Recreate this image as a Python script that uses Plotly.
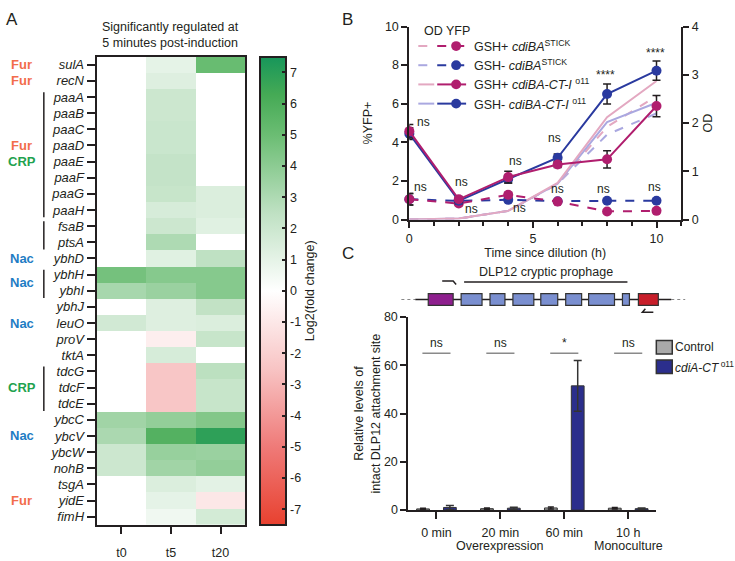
import plotly.graph_objects as go

W, H = 735, 561
def fx(p): return p / W
def fy(p): return 1 - p / H

FONT = "Liberation Sans, Arial, sans-serif"
INK = "#231f20"

# ---------------- Panel A data ----------------
genes = ["sulA", "recN", "paaA", "paaB", "paaC", "paaD", "paaE", "paaF", "paaG", "paaH",
         "fsaB", "ptsA", "ybhD", "ybhH", "ybhI", "ybhJ", "leuO", "proV", "tktA",
         "tdcG", "tdcF", "tdcE", "ybcC", "ybcV", "ybcW", "nohB", "tsgA", "yidE", "fimH"]
time_labels = ["t0", "t5", "t20"]
lfc_t0 = [0, 0, 0, 0, 0, 0, 0, 0, 0, 0,
          0, 0, 0, 4.7, 3.2, 0, 1.8, 0, 0,
          0, 0, 0, 3.4, 3.1, 2.0, 2.0, 0, 0, 0]
lfc_t5 = [1.0, 1.3, 2.0, 2.0, 2.1, 2.1, 2.3, 2.3, 2.2, 1.6,
          2.0, 3.0, 1.2, 4.2, 3.6, 1.3, 1.3, -0.7, 1.6,
          -2.4, -2.4, -2.4, 3.8, 5.8, 3.7, 3.4, 1.4, 1.0, 0.6]
lfc_t20 = [5.1, 0, 0, 0, 0, 0, 0, 0, 1.4, 1.4,
           1.2, 0, 2.5, 4.2, 4.2, 2.4, 1.4, 2.2, 0,
           2.6, 2.2, 2.2, 4.3, 6.9, 3.6, 3.8, 1.1, -1.0, 1.7]
colorbar_ticks = list(range(-7, 8))
regulators = [("Fur", 0), ("Fur", 1), ("Fur", 5), ("CRP", 6), ("Nac", 12), ("Nac", 13.5),
              ("Nac", 16), ("CRP", 20), ("Nac", 23), ("Fur", 27)]
reg_colors = {"Fur": "#f26d4b", "CRP": "#1fa24f", "Nac": "#1f7dc4"}
operons = [(2, 9), (10, 11), (13, 14), (19, 21)]

# ---------------- Panel B data ----------------
hours = [0, 2, 4, 6, 8, 10]
yfp_plus_stick = [1.05, 0.83, 1.28, 0.93, 0.42, 0.45]
yfp_plus_stick_err = [0.3, 0.1, 0.12, 0.08, 0.08, 0.08]
yfp_minus_stick = [1.05, 0.97, 1.02, 0.95, 0.97, 0.97]
yfp_minus_stick_err = [0.3, 0.1, 0.1, 0.08, 0.08, 0.08]
yfp_plus_ct = [4.58, 1.05, 2.2, 2.85, 3.12, 5.88]
yfp_plus_ct_err = [0.35, 0.15, 0.3, 0.15, 0.45, 0.55]
yfp_minus_ct = [4.45, 0.97, 2.1, 3.2, 6.5, 7.71]
yfp_minus_ct_err = [0.3, 0.15, 0.2, 0.2, 0.52, 0.5]
od_plus_stick = [0, 0.02, 0.18, 0.74, 1.92, 2.56]
od_minus_stick = [0, 0.02, 0.18, 0.74, 1.76, 2.2]
od_plus_ct = [0, 0.02, 0.18, 0.76, 2.12, 2.87]
od_minus_ct = [0, 0.02, 0.18, 0.74, 2.02, 2.42]
b_labels = [("ns", 0.58, 5.05), ("ns", 0.45, 1.67), ("ns", 2.1, 1.92), ("ns", 2.5, 0.55),
            ("ns", 4.3, 3.03), ("ns", 4.45, 0.6), ("ns", 5.87, 4.2), ("ns", 6.0, 1.58),
            ("ns", 7.87, 1.58), ("ns", 9.9, 1.67), ("****", 7.95, 7.47), ("****", 9.94, 8.65)]

# ---------------- Panel C data ----------------
conditions = ["0 min", "20 min", "60 min", "10 h"]
control = [0.5, 0.6, 0.9, 0.8]
control_err = [0.3, 0.3, 0.4, 0.3]
cdia = [1.1, 0.8, 51.5, 0.6]
cdia_err = [0.8, 0.4, 10.5, 0.3]
signif = ["ns", "ns", "*", "ns"]
signif_level = 65

MAG = "#b01e6e"
BLU = "#2a3a9f"
PINK = "#e3a8c1"
LAV = "#aaa8e0"

fig = go.Figure()

# ---------------- Panel A ----------------
z = [[a, b, c] for a, b, c in zip(lfc_t0, lfc_t5, lfc_t20)]
cs = [[0.0, "#e8412f"], [1/6, "#ef7a78"], [1/3, "#f8c4c4"], [0.5, "#ffffff"],
      [2/3, "#bfe1c3"], [5/6, "#6bbd73"], [0.92, "#45aa55"], [1.0, "#17965a"]]
fig.add_trace(go.Heatmap(
    z=z, x=list(range(len(time_labels))), y=list(range(len(genes))),
    colorscale=cs, zmin=-7.5, zmax=7.5, xaxis="x", yaxis="y",
    colorbar=dict(x=fx(258), xanchor="left", y=fy(51), yanchor="top",
                  len=480 / H, lenmode="fraction", thickness=26, thicknessmode="pixels",
                  outlinewidth=2, outlinecolor=INK, ticks="inside", ticklen=5,
                  tickwidth=2, tickcolor=INK, tickvals=colorbar_ticks,
                  ticktext=[str(v) for v in colorbar_ticks],
                  tickfont=dict(size=12.5, color=INK, family=FONT),
                  title=dict(text="Log2(fold change)", side="right",
                             font=dict(size=12.5, color=INK, family=FONT)),
                  xpad=0, ypad=0),
    hoverinfo="skip"))

# ---------------- Panel B ----------------
def od_trace(y, color, dash):
    return go.Scatter(x=hours, y=y, mode="lines", line=dict(color=color, width=2, dash=dash),
                      xaxis="x2", yaxis="y2", hoverinfo="skip", cliponaxis=False)

fig.add_trace(od_trace(od_minus_stick, LAV, "dash"))
fig.add_trace(od_trace(od_plus_stick, PINK, "dash"))
fig.add_trace(od_trace(od_minus_ct, LAV, "solid"))
fig.add_trace(od_trace(od_plus_ct, PINK, "solid"))

def yfp_trace(y, err, color, dash):
    return go.Scatter(x=hours, y=y, mode="lines+markers",
                      line=dict(color=color, width=2, dash=dash),
                      marker=dict(color=color, size=10),
                      error_y=dict(type="data", array=err, color=INK, thickness=1.5, width=4),
                      xaxis="x2", yaxis="y3", hoverinfo="skip", cliponaxis=False)

fig.add_trace(yfp_trace(yfp_minus_stick, yfp_minus_stick_err, BLU, "dash"))
fig.add_trace(yfp_trace(yfp_plus_stick, yfp_plus_stick_err, MAG, "dash"))
fig.add_trace(yfp_trace(yfp_minus_ct, yfp_minus_ct_err, BLU, "solid"))
fig.add_trace(yfp_trace(yfp_plus_ct, yfp_plus_ct_err, MAG, "solid"))

# ---------------- Panel C ----------------
idx = list(range(len(conditions)))
fig.add_trace(go.Bar(x=idx, y=control, width=0.2, offset=-0.31,
                     marker=dict(color="#a9a9a9", line=dict(color="#333333", width=1)),
                     error_y=dict(type="data", array=control_err, color=INK, thickness=1.5, width=3),
                     xaxis="x4", yaxis="y4", hoverinfo="skip"))
fig.add_trace(go.Bar(x=idx, y=cdia, width=0.2, offset=0.11,
                     marker=dict(color="#2b2e8c", line=dict(color="#333333", width=1)),
                     error_y=dict(type="data", array=cdia_err, color="#333333", thickness=1.5, width=4),
                     xaxis="x4", yaxis="y4", hoverinfo="skip"))

axis_common = dict(showline=True, linecolor=INK, linewidth=2, ticks="outside",
                   tickcolor=INK, tickwidth=2, showgrid=False, zeroline=False,
                   tickfont=dict(size=12.5, color=INK, family=FONT))

annotations = []
shapes = []

# Panel A labels
annotations.append(dict(text="A", x=fx(1), y=fy(1), xref="paper", yref="paper",
                        xanchor="left", yanchor="top", showarrow=False,
                        font=dict(size=17, color=INK)))
annotations.append(dict(text="Significantly regulated at<br>5 minutes post-induction",
                        x=fx(168.5), y=fy(28.5), xref="paper", yref="paper",
                        xanchor="center", yanchor="middle", showarrow=False,
                        font=dict(size=12.5, color=INK)))
for name, row in regulators:
    annotations.append(dict(text=f"<b>{name}</b>", x=fx(19), y=row, xref="paper", yref="y",
                            xanchor="center", yanchor="middle", showarrow=False,
                            font=dict(size=13, color=reg_colors[name])))
for a, b in operons:
    shapes.append(dict(type="line", xref="paper", yref="y", x0=fx(41), x1=fx(41),
                       y0=a - 0.3, y1=b + 0.45, line=dict(color=INK, width=1.5)))
# left-side colorbar ticks
for v in colorbar_ticks:
    yy = 51 + (7.5 - v) * 32
    shapes.append(dict(type="line", xref="paper", yref="paper", x0=fx(258), x1=fx(263),
                       y0=fy(yy), y1=fy(yy), line=dict(color=INK, width=2)))

# Panel B labels
annotations.append(dict(text="B", x=fx(338), y=fy(1), xref="paper", yref="paper",
                        xanchor="left", yanchor="top", showarrow=False,
                        font=dict(size=17, color=INK)))
for txt, xx, yy in b_labels:
    annotations.append(dict(text=txt, x=xx, y=yy, xref="x2", yref="y3",
                            xanchor="center", yanchor="middle", showarrow=False,
                            font=dict(size=12, color=INK)))
annotations.append(dict(text="OD YFP", x=fx(421), y=fy(25), xref="paper", yref="paper",
                        xanchor="left", yanchor="middle", showarrow=False,
                        font=dict(size=12.5, color=INK)))
legend_b = [("GSH+ <i>cdiBA</i><sup>STICK</sup>", PINK, MAG, "dash"),
            ("GSH- <i>cdiBA</i><sup>STICK</sup>", LAV, BLU, "dash"),
            ("GSH+ <i>cdiBA-CT-I</i> <sup>o11</sup>", PINK, MAG, "solid"),
            ("GSH- <i>cdiBA-CT-I</i> <sup>o11</sup>", LAV, BLU, "solid")]
for k, (txt, light, dark, dash) in enumerate(legend_b):
    ry = 40 + k * 19.7
    shapes.append(dict(type="line", xref="paper", yref="paper", x0=fx(417), x1=fx(433),
                       y0=fy(ry), y1=fy(ry), line=dict(color=light, width=2, dash=dash)))
    shapes.append(dict(type="line", xref="paper", yref="paper", x0=fx(436), x1=fx(465),
                       y0=fy(ry), y1=fy(ry), line=dict(color=dark, width=2, dash=dash)))
    shapes.append(dict(type="circle", xref="paper", yref="paper", x0=fx(450), x1=fx(460),
                       y0=fy(ry + 5), y1=fy(ry - 5), fillcolor=dark, line=dict(width=0)))
    annotations.append(dict(text=txt, x=fx(471), y=fy(ry), xref="paper", yref="paper",
                            xanchor="left", yanchor="middle", showarrow=False,
                            font=dict(size=12.5, color=INK)))

# Panel C labels
annotations.append(dict(text="C", x=fx(338), y=fy(241), xref="paper", yref="paper",
                        xanchor="left", yanchor="top", showarrow=False,
                        font=dict(size=17, color=INK)))
annotations.append(dict(text="DLP12 cryptic prophage", x=fx(545), y=fy(272), xref="paper",
                        yref="paper", xanchor="center", yanchor="middle", showarrow=False,
                        font=dict(size=12.5, color=INK)))
shapes.append(dict(type="line", xref="paper", yref="paper", x0=fx(463), x1=fx(627),
                   y0=fy(282), y1=fy(282), line=dict(color=INK, width=1.5)))
# primers
shapes.append(dict(type="path", xref="paper", yref="paper",
                   path=f"M {fx(441)} {fy(281)} L {fx(452)} {fy(281)} L {fx(455)} {fy(284.5)}",
                   line=dict(color=INK, width=1.5)))
shapes.append(dict(type="path", xref="paper", yref="paper",
                   path=f"M {fx(653)} {fy(313)} L {fx(642)} {fy(313)} L {fx(645)} {fy(309.5)}",
                   line=dict(color=INK, width=1.5)))
# backbone
shapes.append(dict(type="line", xref="paper", yref="paper", x0=fx(400), x1=fx(414),
                   y0=fy(300), y1=fy(300), line=dict(color="#888888", width=1.2, dash="dot")))
shapes.append(dict(type="line", xref="paper", yref="paper", x0=fx(671), x1=fx(685),
                   y0=fy(300), y1=fy(300), line=dict(color="#888888", width=1.2, dash="dot")))
shapes.append(dict(type="line", xref="paper", yref="paper", x0=fx(414), x1=fx(671),
                   y0=fy(300), y1=fy(300), line=dict(color=INK, width=1.5)))
genes_box = [(427, 452, "#8e1f8e")] + [(a, b, "#7a8fd0") for a, b in
             [(460, 481), (489, 504), (512, 533), (540, 557), (565, 581), (588, 614), (622, 629)]] \
            + [(638, 658, "#c81e2a")]
for a, b, col in genes_box:
    shapes.append(dict(type="rect", xref="paper", yref="paper", x0=fx(a), x1=fx(b),
                       y0=fy(306), y1=fy(294), fillcolor=col, line=dict(color="#333333", width=1.2)))

for i, s in enumerate(signif):
    shapes.append(dict(type="line", xref="x4", yref="y4", x0=i - 0.22, x1=i + 0.22,
                       y0=signif_level, y1=signif_level, line=dict(color="#8a8a8a", width=1.5)))
    annotations.append(dict(text=s, x=i, y=signif_level, xref="x4", yref="y4",
                            xanchor="center", yanchor="bottom", yshift=1, showarrow=False,
                            font=dict(size=12, color=INK)))
annotations.append(dict(text="Overexpression", x=1, y=fy(553), xref="x4", yref="paper",
                        xanchor="center", yanchor="middle", showarrow=False,
                        font=dict(size=12.5, color=INK)))
annotations.append(dict(text="Monoculture", x=3, y=fy(553), xref="x4", yref="paper",
                        xanchor="center", yanchor="middle", showarrow=False,
                        font=dict(size=12.5, color=INK)))
# legend C
for k, (txt, col) in enumerate([("Control", "#a9a9a9"), ("<i>cdiA-CT</i><sup> o11</sup>", "#2b2e8c")]):
    ry = 349 + k * 20
    shapes.append(dict(type="rect", xref="paper", yref="paper", x0=fx(656), x1=fx(672),
                       y0=fy(ry + 7), y1=fy(ry - 7), fillcolor=col,
                       line=dict(color="#333333", width=1.5)))
    annotations.append(dict(text=txt, x=fx(673), y=fy(ry), xref="paper", yref="paper",
                            xanchor="left", yanchor="middle", showarrow=False,
                            font=dict(size=12, color=INK)))

fig.update_layout(
    width=W, height=H, margin=dict(l=0, r=0, t=0, b=0),
    paper_bgcolor="white", plot_bgcolor="white", showlegend=False,
    font=dict(family=FONT, color=INK, size=12.5),
    barmode="overlay",
    xaxis=dict(domain=[fx(94), fx(243.3)], anchor="y", range=[-0.5, 2.5],
               tickvals=list(range(len(time_labels))), ticktext=time_labels,
               ticklen=7, ticklabelstandoff=8, mirror=True, **axis_common),
    yaxis=dict(domain=[fy(531), fy(51)], anchor="x", range=[len(genes) - 0.5, -0.5],
               tickvals=list(range(len(genes))), ticktext=[f"<i>{g}</i>" for g in genes],
               ticklen=8, mirror=True, **{**axis_common, "tickfont": dict(size=13, color=INK, family=FONT)}),
    xaxis2=dict(domain=[fx(408), fx(681)], anchor="y2", range=[0, 11], tickvals=[0, 5, 10],
                ticklen=6, minor=dict(dtick=1, ticks="outside", ticklen=4, tickwidth=2, tickcolor=INK),
                title=dict(text="Time since dilution (h)", standoff=3,
                           font=dict(size=12.5, color=INK, family=FONT)),
                **axis_common),
    yaxis2=dict(domain=[fy(218), fy(20)], anchor="x2", side="right", range=[0, 4], dtick=1,
                ticklen=6, title=dict(text="OD", standoff=6, font=dict(size=12.5, color=INK, family=FONT)),
                **axis_common),
    yaxis3=dict(overlaying="y2", anchor="x2", side="left", range=[0, 10], dtick=2,
                ticklen=6, title=dict(text="%YFP+", standoff=10, font=dict(size=12.5, color=INK, family=FONT)),
                **axis_common),
    xaxis4=dict(domain=[fx(407), fx(656)], anchor="y4", range=[-0.44, 3.44],
                tickvals=idx, ticktext=conditions, ticklen=7, ticklabelstandoff=3, **axis_common),
    yaxis4=dict(domain=[fy(516), fy(318)], anchor="x4", range=[0, 80], dtick=20, ticklen=6,
                title=dict(text="Relative levels of<br>intact DLP12 attachment site", standoff=1,
                           font=dict(size=12.5, color=INK, family=FONT)),
                **axis_common),
    annotations=annotations, shapes=shapes,
)

fig.write_html("out.html")
